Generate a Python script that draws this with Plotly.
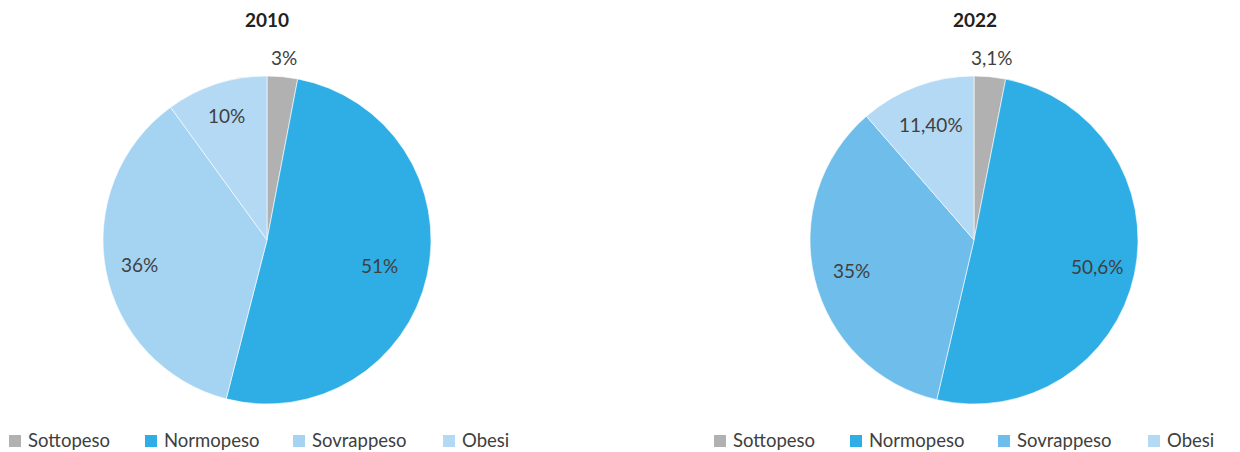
import math
import plotly.graph_objects as go

categories = ["Sottopeso", "Normopeso", "Sovrappeso", "Obesi"]

values_2010 = [3, 51, 36, 10]
labels_2010 = ["3%", "51%", "36%", "10%"]
colors_2010 = ["#b1b1b1", "#2eaee4", "#a5d4f3", "#b3d9f4"]

values_2022 = [3.1, 50.6, 35, 11.4]
labels_2022 = ["3,1%", "50,6%", "35%", "11,40%"]
colors_2022 = ["#b1b1b1", "#2eaee4", "#6ebdea", "#b3d9f4"]

W, H = 1240, 452
FONT = "Lato, 'Open Sans', sans-serif"
TEXT_COLOR = "#404040"
R = 164                      # pie radius in px
CY = 240                     # pie centre (px from top)

# label distance from the centre, as a fraction of the radius, per slice
LABEL_RADII_2010 = [1.12, 0.70, 0.79, 0.80]
LABEL_RADII_2022 = [1.12, 0.77, 0.77, 0.75]

# legend entry offsets (px) relative to the legend's left edge
LEGEND_OFFSETS = [0, 136, 284, 434]


def domain(cx, cy, r):
    return dict(
        x=[(cx - r) / W, (cx + r) / W],
        y=[1 - (cy + r) / H, 1 - (cy - r) / H],
    )


def pie(values, texts, colors, dom):
    return go.Pie(
        labels=categories,
        values=values,
        text=texts,
        textinfo="none",
        marker=dict(colors=colors, line=dict(color="white", width=0.6)),
        sort=False,
        direction="clockwise",
        rotation=0,
        domain=dom,
        showlegend=False,
        hoverinfo="label+text",
    )


def slice_labels(values, texts, cx, radii):
    """Place each value label at its slice's mid-angle (clockwise from 12 o'clock)."""
    total = sum(values)
    out = []
    acc = 0.0
    for v, t, rf in zip(values, texts, radii):
        mid = (acc + v / 2) / total * 2 * math.pi
        acc += v
        x = cx + rf * R * math.sin(mid)
        y = CY - rf * R * math.cos(mid)
        out.append(dict(
            text=t, x=x / W, y=1 - y / H, xref="paper", yref="paper",
            xanchor="center", yanchor="middle", showarrow=False,
            font=dict(family=FONT, size=19, color=TEXT_COLOR),
        ))
    return out


def legend(colors, x0):
    shapes, notes = [], []
    y = 440
    for name, col, off in zip(categories, colors, LEGEND_OFFSETS):
        x = x0 + off
        shapes.append(dict(
            type="rect", xref="paper", yref="paper",
            x0=x / W, x1=(x + 12) / W, y0=1 - (y + 7) / H, y1=1 - (y - 5) / H,
            fillcolor=col, line=dict(width=0),
        ))
        notes.append(dict(
            text=name, x=(x + 18) / W, y=1 - y / H, xref="paper", yref="paper",
            xanchor="left", yanchor="middle", showarrow=False, borderpad=0,
            font=dict(family=FONT, size=18.5, color=TEXT_COLOR),
        ))
    return shapes, notes


fig = go.Figure()
fig.add_trace(pie(values_2010, labels_2010, colors_2010, domain(267, CY, R)))
fig.add_trace(pie(values_2022, labels_2022, colors_2022, domain(974, CY, R)))

annotations = []
annotations += slice_labels(values_2010, labels_2010, 267, LABEL_RADII_2010)
annotations += slice_labels(values_2022, labels_2022, 974, LABEL_RADII_2022)

shapes_l, notes_l = legend(colors_2010, 9)
shapes_r, notes_r = legend(colors_2022, 714)
annotations += notes_l + notes_r

for title, cx in (("2010", 267), ("2022", 975)):
    annotations.append(dict(
        text=f"<b>{title}</b>", x=cx / W, y=1 - 20 / H, xref="paper", yref="paper",
        xanchor="center", yanchor="middle", showarrow=False,
        font=dict(family=FONT, size=19, color="#222222"),
    ))

fig.update_layout(
    width=W,
    height=H,
    margin=dict(l=0, r=0, t=0, b=0),
    paper_bgcolor="white",
    plot_bgcolor="white",
    font=dict(family=FONT, color=TEXT_COLOR),
    showlegend=False,
    annotations=annotations,
    shapes=shapes_l + shapes_r,
)

fig.write_html("out.html")
